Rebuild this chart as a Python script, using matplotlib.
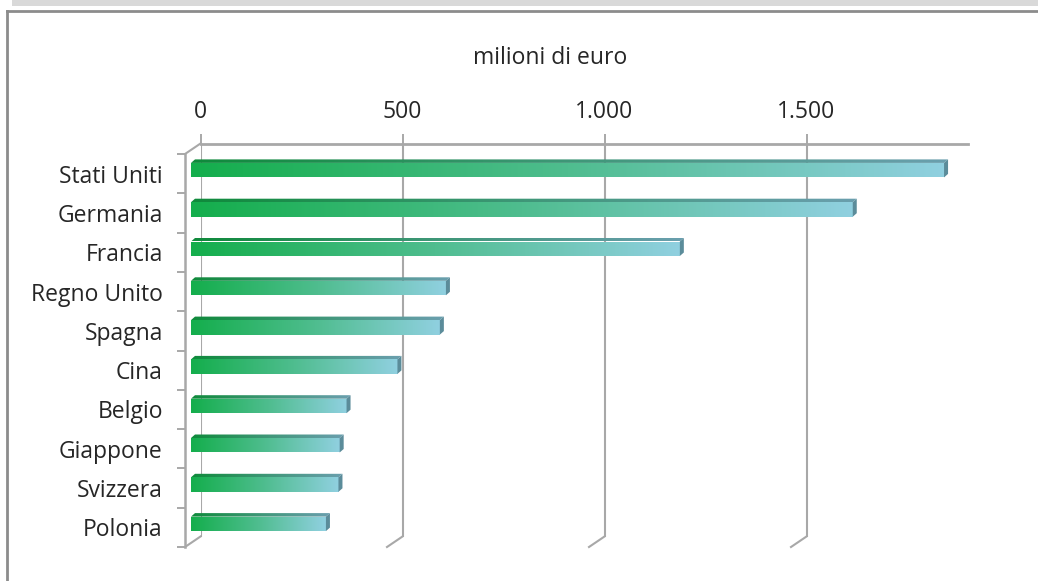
import numpy as np
import matplotlib
matplotlib.use("Agg")
import matplotlib.pyplot as plt
from matplotlib import transforms
from matplotlib.patches import Polygon, Rectangle
from matplotlib.lines import Line2D
from matplotlib.colors import LinearSegmentedColormap

# ---------------- data ----------------
countries = ["Stati Uniti", "Germania", "Francia", "Regno Unito", "Spagna",
             "Cina", "Belgio", "Giappone", "Svizzera", "Polonia"]
values = [1864, 1638, 1210, 631, 616, 511, 385, 368, 365, 334]
tick_values = [0, 500, 1000, 1500]
tick_labels = ["0", "500", "1.000", "1.500"]
axis_title = "milioni di euro"
x_max = 1900

# ---------------- style ----------------
plt.rcParams["font.family"] = ["Open Sans", "DejaVu Sans"]
FS = 16.5
TXT = "#262626"
GRID = "#a8a8a8"

W, H = 1038, 581
fig = plt.figure(figsize=(W / 100, H / 100), dpi=100)

# front plane of the 3D box (pixels)
L, R, T, B = 185, 952.6, 154, 547
DX, DY = 15.5, 10.5  # depth offset front -> back wall
ax = fig.add_axes([L / W, 1 - B / H, (R - L) / W, (B - T) / H])
axb = fig.add_axes([(L + DX) / W, 1 - (B - DY) / H, (R - L) / W, (B - T) / H])
axb.set_zorder(1)
ax.set_zorder(2)
ax.patch.set_visible(False)

# ---- back wall: top value axis + gridlines ----
axb.set_xlim(0, x_max)
axb.set_ylim(len(countries) - 0.5, -0.5)
axb.xaxis.tick_top()
axb.set_xticks(tick_values)
axb.set_xticklabels(tick_labels)
axb.tick_params(axis="x", length=7, width=1.4, color=GRID, pad=7,
                labelsize=FS, labelcolor=TXT)
axb.set_yticks([])
axb.grid(axis="x", color=GRID, lw=1.5)
axb.set_axisbelow(True)
for s in ["left", "right", "bottom"]:
    axb.spines[s].set_visible(False)
axb.spines["top"].set_color(GRID)
axb.spines["top"].set_linewidth(2.0)
axb.patch.set_visible(False)

# ---- front plane: category axis ----
ax.set_xlim(0, x_max)
ax.set_ylim(len(countries) - 0.5, -0.5)
ppx = (R - L) / x_max
ppy = (B - T) / len(countries)

cm_front = LinearSegmentedColormap.from_list(
    "front", ["#14ae4c", "#4fbd8f", "#90d0e0"])
cm_top = LinearSegmentedColormap.from_list(
    "top", ["#0f8a3b", "#3f9778", "#6a9fae"])
grad = np.linspace(0, 1, 256).reshape(1, -1)

tr_bar = transforms.offset_copy(ax.transData, fig=fig, x=6, y=3.5, units="dots")
h = 14.5 / ppy
dxu = 4 / ppx
dyu = 3.5 / ppy

bars = ax.barh(range(len(countries)), values, height=h, color="none",
               transform=tr_bar, zorder=3)
for i, (v, bar) in enumerate(zip(values, bars)):
    top = i - h / 2
    bot = i + h / 2
    im = ax.imshow(grad, cmap=cm_front, extent=(0, v, bot, top),
                   transform=tr_bar, aspect="auto", interpolation="bilinear",
                   zorder=3)
    im.set_clip_path(bar)
    tp = Polygon([(0, top), (v, top), (v + dxu, top - dyu), (dxu, top - dyu)],
                 closed=True, transform=tr_bar, facecolor="none",
                 edgecolor="none")
    ax.add_patch(tp)
    im2 = ax.imshow(grad, cmap=cm_top, extent=(0, v + dxu, top, top - dyu),
                    transform=tr_bar, aspect="auto", interpolation="bilinear",
                    zorder=3)
    im2.set_clip_path(tp)
    sp = Polygon([(v, top), (v, bot), (v + dxu, bot - dyu),
                  (v + dxu, top - dyu)], closed=True, transform=tr_bar,
                 facecolor="#5b8c9a", edgecolor="none", zorder=4)
    ax.add_patch(sp)

ax.set_xlim(0, x_max)
ax.set_ylim(len(countries) - 0.5, -0.5)
ax.set_aspect("auto")

ax.set_xticks([])
ax.set_yticks(range(len(countries)))
ax.set_yticklabels(countries)
ax.set_yticks(np.arange(-0.5, len(countries), 1), minor=True)
ax.tick_params(axis="y", which="major", length=0, pad=16,
               labelsize=FS, labelcolor=TXT)
ax.tick_params(axis="y", which="minor", length=6, width=1.4, color=GRID)
for s in ["right", "top", "bottom"]:
    ax.spines[s].set_visible(False)
ax.spines["left"].set_color(GRID)
ax.spines["left"].set_linewidth(1.8)

# depth connectors (front plane -> back wall)
ax.plot([0, DX / ppx], [-0.5, -0.5 - DY / ppy], color=GRID, lw=1.5,
        clip_on=False, zorder=1)
for tv in tick_values:
    ax.plot([tv, tv + DX / ppx], [len(countries) - 0.5,
            len(countries) - 0.5 - DY / ppy], color=GRID, lw=1.5,
            clip_on=False, zorder=1)

# axis title
fig.text(550 / W, 1 - 58 / H, axis_title, ha="center", va="center",
         fontsize=FS, color=TXT)

# outer frame
fig.add_artist(Rectangle((12 / W, 1 - 6 / H), 1 - 12 / W, 6 / H,
                         transform=fig.transFigure, color="#d9d9d9", lw=0))
fig.add_artist(Line2D([7 / W, 1], [1 - 11 / H, 1 - 11 / H],
                      transform=fig.transFigure, color="#8c8c8c", lw=2))
fig.add_artist(Line2D([7 / W, 7 / W], [1 - 11 / H, 0],
                      transform=fig.transFigure, color="#8c8c8c", lw=2))

fig.savefig("out.png", dpi=100)
